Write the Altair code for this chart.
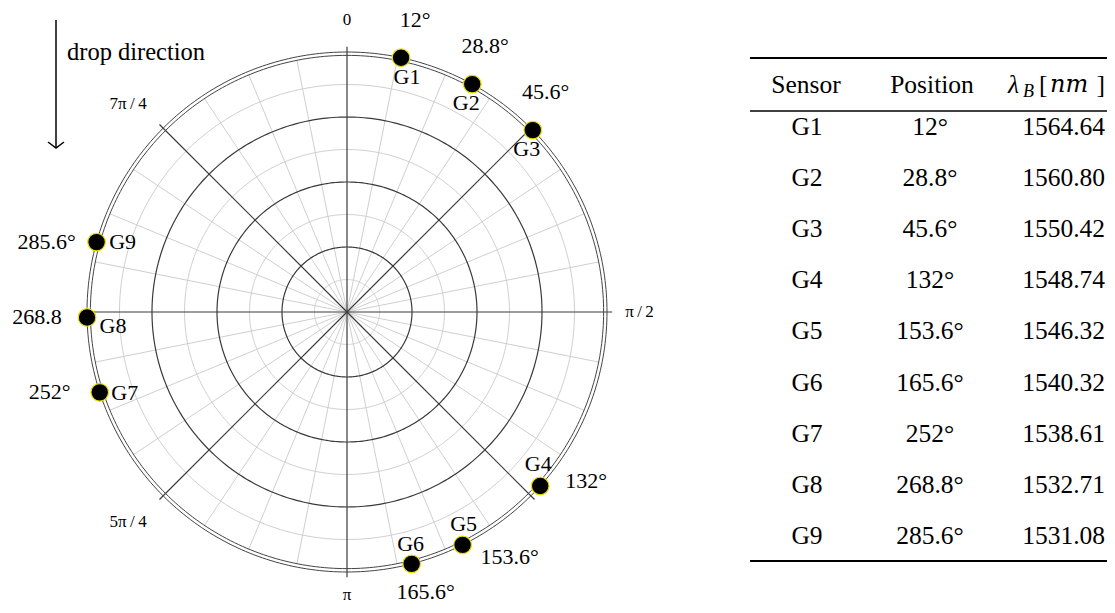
import numpy as np
import pandas as pd
import altair as alt

# ---------------- data ----------------
sensors = ["G1", "G2", "G3", "G4", "G5", "G6", "G7", "G8", "G9"]
positions_deg = [12, 28.8, 45.6, 132, 153.6, 165.6, 252, 268.8, 285.6]
plot_angle_labels = ["12°", "28.8°", "45.6°", "132°", "153.6°", "165.6°", "252°", "268.8", "285.6°"]
table_positions = ["12°", "28.8°", "45.6°", "132°", "153.6°", "165.6°", "252°", "268.8°", "285.6°"]
bragg_wavelengths = ["1564.64", "1560.80", "1550.42", "1548.74", "1546.32",
                     "1540.32", "1538.61", "1532.71", "1531.08"]
tick_angles = [0, 90, 180, 225, 315]
tick_texts = ["0", "π\u2009/\u20092", "π", "5π\u2009/\u20094", "7π\u2009/\u20094"]

# ---------------- layout ----------------
SERIF = "Liberation Serif"
W, H = 1099, 597
CX, CY, RPX = 339, 304, 260
xs = alt.Scale(domain=[-CX / RPX, (W - CX) / RPX], nice=False, zero=False)
ys = alt.Scale(domain=[-(H - CY) / RPX, CY / RPX], nice=False, zero=False)


def polar(r, deg):
    t = np.deg2rad(np.asarray(deg, dtype=float))
    return r * np.sin(t), r * np.cos(t)


# rings
ring_rows = []
theta = np.linspace(0, 360, 361)
for kind, radii in [("minor", [0.125, 0.375, 0.625, 0.875]),
                    ("major", [0.25, 0.5, 0.75]),
                    ("outer", [0.987, 1.0])]:
    for r in radii:
        x, y = polar(r, theta)
        for i in range(len(theta)):
            ring_rows.append({"kind": kind, "ring": f"{kind}{r}", "o": i, "x": x[i], "y": y[i]})
rings = pd.DataFrame(ring_rows)

spoke_rows = []
for k in range(32):
    a = k * 11.25
    major = (k % 4 == 0)
    r = 1.02 if major else 0.987
    x2, y2 = polar(r, a)
    spoke_rows.append({"kind": "major" if major else "minor", "x": 0.0, "y": 0.0, "x2": x2, "y2": y2})
spokes = pd.DataFrame(spoke_rows)

sx, sy = polar(1.0, positions_deg)
sens = pd.DataFrame({"sensor": sensors, "label": plot_angle_labels, "x": sx, "y": sy})

tx, ty = polar(1.125, tick_angles)
ticks = pd.DataFrame({"t": tick_texts, "a": tick_angles, "x": tx, "y": ty})

enc = dict(x=alt.X("x:Q", scale=xs, axis=None), y=alt.Y("y:Q", scale=ys, axis=None))


def ring_layer(kind, color, w):
    return alt.Chart(rings).transform_filter(alt.datum.kind == kind).mark_line(
        color=color, strokeWidth=w).encode(detail="ring:N", order="o:Q", **enc)


def spoke_layer(kind, color, w):
    return alt.Chart(spokes).transform_filter(alt.datum.kind == kind).mark_rule(
        color=color, strokeWidth=w).encode(x2="x2:Q", y2="y2:Q", **enc)


layers = [
    ring_layer("minor", "#cfcfcf", 1),
    spoke_layer("minor", "#cfcfcf", 1),
    ring_layer("major", "#3a3a3a", 1.2),
    spoke_layer("major", "#3a3a3a", 1.2),
    ring_layer("outer", "#444444", 1),
    alt.Chart(sens).mark_point(shape="circle", filled=True, fill="black", stroke="#e8e000",
                               strokeWidth=1.2, size=310, opacity=1).encode(**enc),
]

label_style = {
    "G1": ((6, 19), (14, -38)),
    "G2": ((-6, 19), (13, -38)),
    "G3": ((-6, 19), (13, -38)),
    "G4": ((-2, -22), (46, -5)),
    "G5": ((1, -21), (47, 12)),
    "G6": ((-1, -20), (14, 28)),
    "G7": ((25, 1), (-50, 0)),
    "G8": ((26, 9), (-50, 0)),
    "G9": ((26, 0), (-50, 0)),
}
for name, ((gdx, gdy), (adx, ady)) in label_style.items():
    base = alt.Chart(sens).transform_filter(alt.datum.sensor == name)
    layers.append(base.mark_text(font=SERIF, fontSize=22, color="black", dx=gdx, dy=gdy,
                                 align="center", baseline="middle").encode(text="sensor:N", **enc))
    layers.append(base.mark_text(font=SERIF, fontSize=22, color="black", dx=adx, dy=ady,
                                 align="center", baseline="middle").encode(text="label:N", **enc))

tick_style = {0: (0, 0), 90: (0, 0), 180: (0, -10), 225: (-12, 3), 315: (-12, -1)}
for a, (dx, dy) in tick_style.items():
    layers.append(alt.Chart(ticks).transform_filter(alt.datum.a == a).mark_text(
        font=SERIF, fontSize=17, color="black", dx=dx, dy=dy, align="center", baseline="middle"
    ).encode(text="t:N", **enc))

one = pd.DataFrame({"t": ["drop direction"]})
layers.append(alt.Chart(one).mark_rule(color="black", strokeWidth=1.5).encode(
    x=alt.value(48), y=alt.value(12), y2=alt.value(139)))
layers.append(alt.Chart(one).mark_point(shape="M-1,-0.75L0,0L1,-0.75", filled=False,
                                        stroke="black", strokeWidth=1.5, size=256, opacity=1).encode(
    x=alt.value(48), y=alt.value(140)))
layers.append(alt.Chart(one).mark_text(font=SERIF, fontSize=24.5, color="black", align="left",
                                       baseline="middle").encode(
    x=alt.value(59), y=alt.value(45), text="t:N"))

polar_chart = alt.layer(*layers)

# ---------------- table ----------------
tbl = pd.DataFrame({"row": list(range(1, 10)), "sensor": sensors,
                    "pos": table_positions, "wl": bragg_wavelengths})
ROW0, ROWSTEP = 119, 51.1
tys = alt.Scale(domain=[1 - ROW0 / ROWSTEP, 1 + (H - ROW0) / ROWSTEP], reverse=True, nice=False, zero=False)
TFONT = 25.5

tlayers = []
for field, xpos, align in [("sensor", 799, "center"), ("pos", 922, "center"), ("wl", 1097, "right")]:
    tlayers.append(alt.Chart(tbl).mark_text(font=SERIF, fontSize=TFONT, color="black", align=align,
                                            baseline="middle").encode(
        x=alt.value(xpos), y=alt.Y("row:Q", scale=tys, axis=None), text=f"{field}:N"))

for ypos, w in [(50, 2.2), (103, 1.4), (553, 2.2)]:
    tlayers.append(alt.Chart(one).mark_rule(color="black", strokeWidth=w).encode(
        x=alt.value(742), x2=alt.value(W), y=alt.value(ypos)))


def head(text, x, y, align="center", italic=False, size=TFONT, font=SERIF):
    return alt.Chart(pd.DataFrame({"t": [text]})).mark_text(
        font=font, fontSize=size, color="black", align=align, baseline="middle",
        fontStyle="italic" if italic else "normal").encode(x=alt.value(x), y=alt.value(y), text="t:N")


tlayers += [
    head("Sensor", 798, 77),
    head("Position", 924, 77),
    head("λ", 1000, 77, align="left", italic=True),
    head("B", 1015, 84, align="left", italic=True, size=18),
    head("[", 1031, 77, align="left"),
    head("nm", 1042, 77, align="left", italic=True, size=24, font="DejaVu Serif"),
    head("]", 1097, 77, align="right"),
]

table_chart = alt.layer(*tlayers)

chart = alt.layer(polar_chart, table_chart).resolve_scale(y="independent", x="independent").properties(
    width=W, height=H, padding=0, autosize=alt.AutoSizeParams(type="none")
).configure_view(stroke=None)

chart.save("out.html", embed_options={"renderer": "svg", "actions": False})
